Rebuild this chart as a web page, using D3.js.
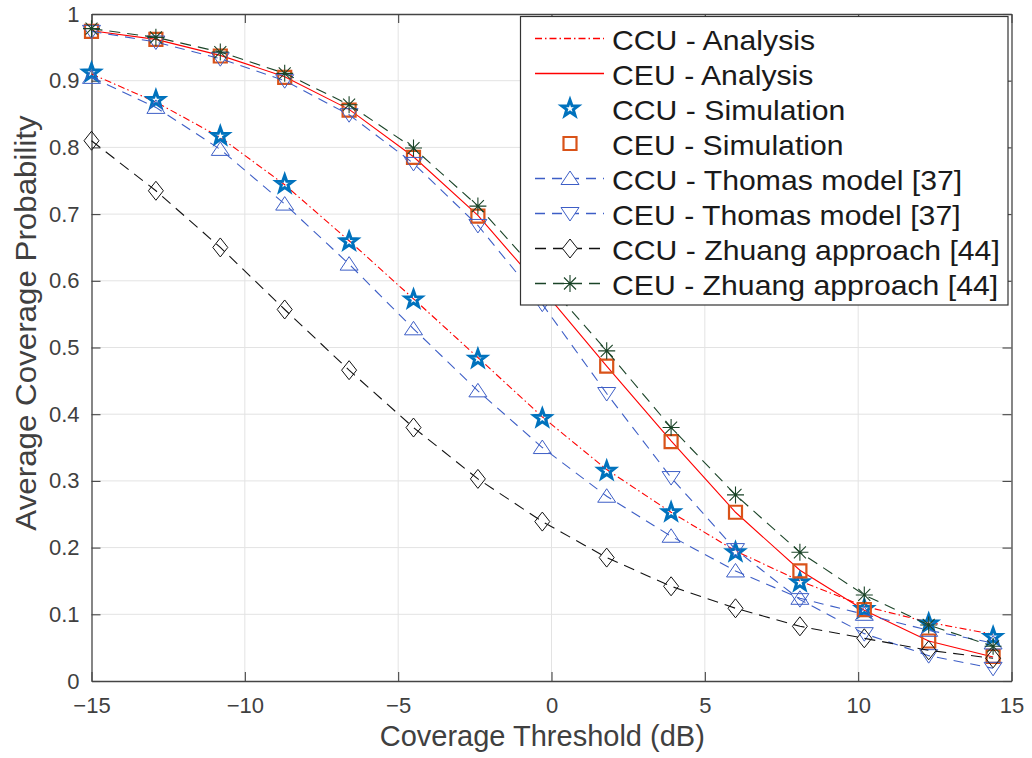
<!DOCTYPE html>
<html>
<head>
<meta charset="utf-8">
<script src="https://cdn.jsdelivr.net/npm/d3@7/dist/d3.min.js"></script>
<style>
  html, body { margin: 0; padding: 0; background: #fff; }
  svg { display: block; font-family: "Liberation Sans", Arial, sans-serif; }
</style>
</head>
<body>
<div id="chart"></div>
<script>
// Coverage threshold (dB) at which every curve is sampled
const thresholds = [-15, -12.9, -10.8, -8.7, -6.6, -4.5, -2.4, -0.3, 1.8, 3.9, 6.0, 8.1, 10.2, 12.3, 14.4];

const ccuAnalysis = [0.910, 0.868, 0.815, 0.744, 0.660, 0.573, 0.485, 0.396, 0.317, 0.253, 0.195, 0.150, 0.112, 0.088, 0.070];
const ceuAnalysis = [0.975, 0.962, 0.938, 0.906, 0.857, 0.786, 0.698, 0.587, 0.472, 0.360, 0.253, 0.166, 0.106, 0.060, 0.036];
const ccuSimulation = [0.912, 0.871, 0.817, 0.745, 0.659, 0.572, 0.483, 0.394, 0.315, 0.253, 0.193, 0.148, 0.108, 0.086, 0.066];
const ceuSimulation = [0.974, 0.962, 0.937, 0.905, 0.856, 0.785, 0.697, 0.586, 0.472, 0.359, 0.253, 0.165, 0.107, 0.060, 0.037];
const ccuThomas = [0.905, 0.860, 0.797, 0.715, 0.625, 0.528, 0.435, 0.350, 0.277, 0.217, 0.165, 0.124, 0.100, 0.076, 0.057];
const ceuThomas = [0.974, 0.958, 0.933, 0.900, 0.849, 0.776, 0.683, 0.565, 0.431, 0.305, 0.197, 0.122, 0.071, 0.038, 0.019];
const ccuZhuang = [0.810, 0.735, 0.650, 0.557, 0.466, 0.380, 0.303, 0.239, 0.185, 0.142, 0.109, 0.082, 0.064, 0.046, 0.034];
const ceuZhuang = [0.978, 0.965, 0.943, 0.911, 0.864, 0.799, 0.712, 0.605, 0.495, 0.380, 0.279, 0.193, 0.129, 0.084, 0.052];

const xTicks = [-15, -10, -5, 0, 5, 10, 15];
const yTicks = [0, 0.1, 0.2, 0.3, 0.4, 0.5, 0.6, 0.7, 0.8, 0.9, 1];

const width = 1032;
const height = 758;
const margin = { top: 14, right: 20.5, bottom: 77, left: 91.5 };

// marker shapes, drawn around (0,0)
const markerPaths = {
  star: (() => {
    const pts = [];
    for (let i = 0; i < 10; i++) {
      const r = i % 2 === 0 ? 8.6 : 3.5;
      const a = -Math.PI / 2 + (i * Math.PI) / 5;
      pts.push([r * Math.cos(a), r * Math.sin(a)]);
    }
    return 'M' + pts.map((p) => p.join(',')).join('L') + 'Z';
  })(),
  square: 'M-6.5,-6.5L6.5,-6.5L6.5,6.5L-6.5,6.5Z',
  triUp: 'M0,-7.5L9,6L-9,6Z',
  triDown: 'M0,7.5L9,-6L-9,-6Z',
  diamond: 'M0,-9.5L7.5,0L0,9.5L-7.5,0Z',
  asterisk: 'M0,-8.5L0,8.5M-8.5,0L8.5,0M-6,-6L6,6M-6,6L6,-6'
};

const series = [
  { label: 'CCU - Analysis', values: ccuAnalysis, color: '#ff0000', dash: '7,3,1.5,3', line: true, marker: null },
  { label: 'CEU - Analysis', values: ceuAnalysis, color: '#ff0000', dash: 'none', line: true, marker: null },
  { label: 'CCU - Simulation', values: ccuSimulation, color: '#0072bd', line: false, marker: 'star', mw: 3 },
  { label: 'CEU - Simulation', values: ceuSimulation, color: '#d95319', line: false, marker: 'square', mw: 2.2 },
  { label: 'CCU - Thomas model [37]', values: ccuThomas, color: '#3d5ec6', dash: '10,7', line: true, marker: 'triUp', mw: 1 },
  { label: 'CEU - Thomas model [37]', values: ceuThomas, color: '#3d5ec6', dash: '10,7', line: true, marker: 'triDown', mw: 1 },
  { label: 'CCU - Zhuang approach [44]', values: ccuZhuang, color: '#111111', dash: '11,7', line: true, marker: 'diamond', mw: 1 },
  { label: 'CEU - Zhuang approach [44]', values: ceuZhuang, color: '#1b4428', dash: '11,7', line: true, marker: 'asterisk', mw: 1.1 }
];

const svg = d3.select('#chart').append('svg').attr('width', width).attr('height', height);
svg.append('rect').attr('width', width).attr('height', height).attr('fill', '#fff');

const x = d3.scaleLinear().domain([-15, 15]).range([margin.left, width - margin.right]);
const y = d3.scaleLinear().domain([0, 1]).range([height - margin.bottom, margin.top]);

// grid
const grid = svg.append('g').attr('stroke', '#e3e3e3').attr('stroke-width', 1);
grid.selectAll('line.gx').data(xTicks.slice(1, -1)).join('line')
  .attr('x1', (d) => x(d)).attr('x2', (d) => x(d)).attr('y1', y(0)).attr('y2', y(1));
grid.selectAll('line.gy').data(yTicks.slice(1, -1)).join('line')
  .attr('y1', (d) => y(d)).attr('y2', (d) => y(d)).attr('x1', x(-15)).attr('x2', x(15));

// axes with inward ticks, MATLAB box style
const axisColor = '#444';
const styleAxis = (g) => {
  g.select('.domain').attr('stroke', axisColor).attr('stroke-width', 1.3);
  g.selectAll('.tick line').attr('stroke', axisColor).attr('stroke-width', 1.1);
  g.selectAll('.tick text').attr('fill', '#404040').attr('font-size', 22);
};
svg.append('g').attr('transform', `translate(0,${y(0)})`)
  .call(d3.axisBottom(x).tickValues(xTicks).tickSizeInner(-9).tickSizeOuter(0).tickPadding(16).tickFormat(d3.format('d')))
  .call(styleAxis);
svg.append('g').attr('transform', `translate(${x(-15)},0)`)
  .call(d3.axisLeft(y).tickValues(yTicks).tickSizeInner(-9).tickSizeOuter(0).tickPadding(12).tickFormat((d) => (d === 0 || d === 1 ? d3.format('d')(d) : d3.format('.1f')(d))))
  .call(styleAxis);
svg.append('g').attr('transform', `translate(0,${y(1)})`)
  .call(d3.axisTop(x).tickValues(xTicks).tickSizeInner(-9).tickSizeOuter(0).tickFormat(''))
  .call(styleAxis);
svg.append('g').attr('transform', `translate(${x(15)},0)`)
  .call(d3.axisRight(y).tickValues(yTicks).tickSizeInner(-9).tickSizeOuter(0).tickFormat(''))
  .call(styleAxis);
svg.selectAll('.tick text').attr('font-family', '"Liberation Sans", Arial, sans-serif');

// axis titles
svg.append('text')
  .attr('x', x(-0.3)).attr('y', 746)
  .attr('text-anchor', 'middle').attr('font-size', 29).attr('fill', '#404040')
  .text('Coverage Threshold (dB)');
svg.append('text')
  .attr('transform', `translate(36,323) rotate(-90) scale(1.08,1)`)
  .attr('text-anchor', 'middle').attr('font-size', 29).attr('fill', '#404040')
  .text('Average Coverage Probability');

// lines and markers
const lineGen = d3.line().x((d) => x(d[0])).y((d) => y(d[1]));
const plot = svg.append('g');
series.forEach((s) => {
  const pts = thresholds.map((t, i) => [t, s.values[i]]);
  if (s.line) {
    plot.append('path')
      .attr('d', lineGen(pts))
      .attr('fill', 'none')
      .attr('stroke', s.color)
      .attr('stroke-width', 1.1)
      .attr('stroke-dasharray', s.dash);
  }
  if (s.marker) {
    plot.append('g').selectAll('path').data(pts).join('path')
      .attr('transform', (d) => `translate(${x(d[0])},${y(d[1])})`)
      .attr('d', markerPaths[s.marker])
      .attr('fill', 'none')
      .attr('stroke', s.color)
      .attr('stroke-width', s.mw)
      .attr('stroke-linejoin', 'miter');
  }
});

// legend
const legend = svg.append('g');
legend.append('rect')
  .attr('x', 520.5).attr('y', 16.5).attr('width', 487.5).attr('height', 288.5)
  .attr('fill', '#fff').attr('stroke', '#333').attr('stroke-width', 1.2);
series.forEach((s, i) => {
  const row = legend.append('g').attr('transform', `translate(0,${38.5 + i * 35})`);
  if (s.line) {
    row.append('path').attr('d', 'M535,0H604')
      .attr('fill', 'none')
      .attr('stroke', s.color).attr('stroke-width', 1.3).attr('stroke-dasharray', s.dash);
  }
  if (s.marker) {
    row.append('path').attr('transform', 'translate(570,0)').attr('d', markerPaths[s.marker])
      .attr('fill', s.line ? '#fff' : 'none').attr('stroke', s.color).attr('stroke-width', s.mw);
  }
  row.append('text')
    .attr('transform', 'translate(612,1) scale(1.06,1)')
    .attr('dominant-baseline', 'central')
    .attr('font-size', 28.5).attr('fill', '#1a1a1a')
    .text(s.label);
});
</script>
</body>
</html>
